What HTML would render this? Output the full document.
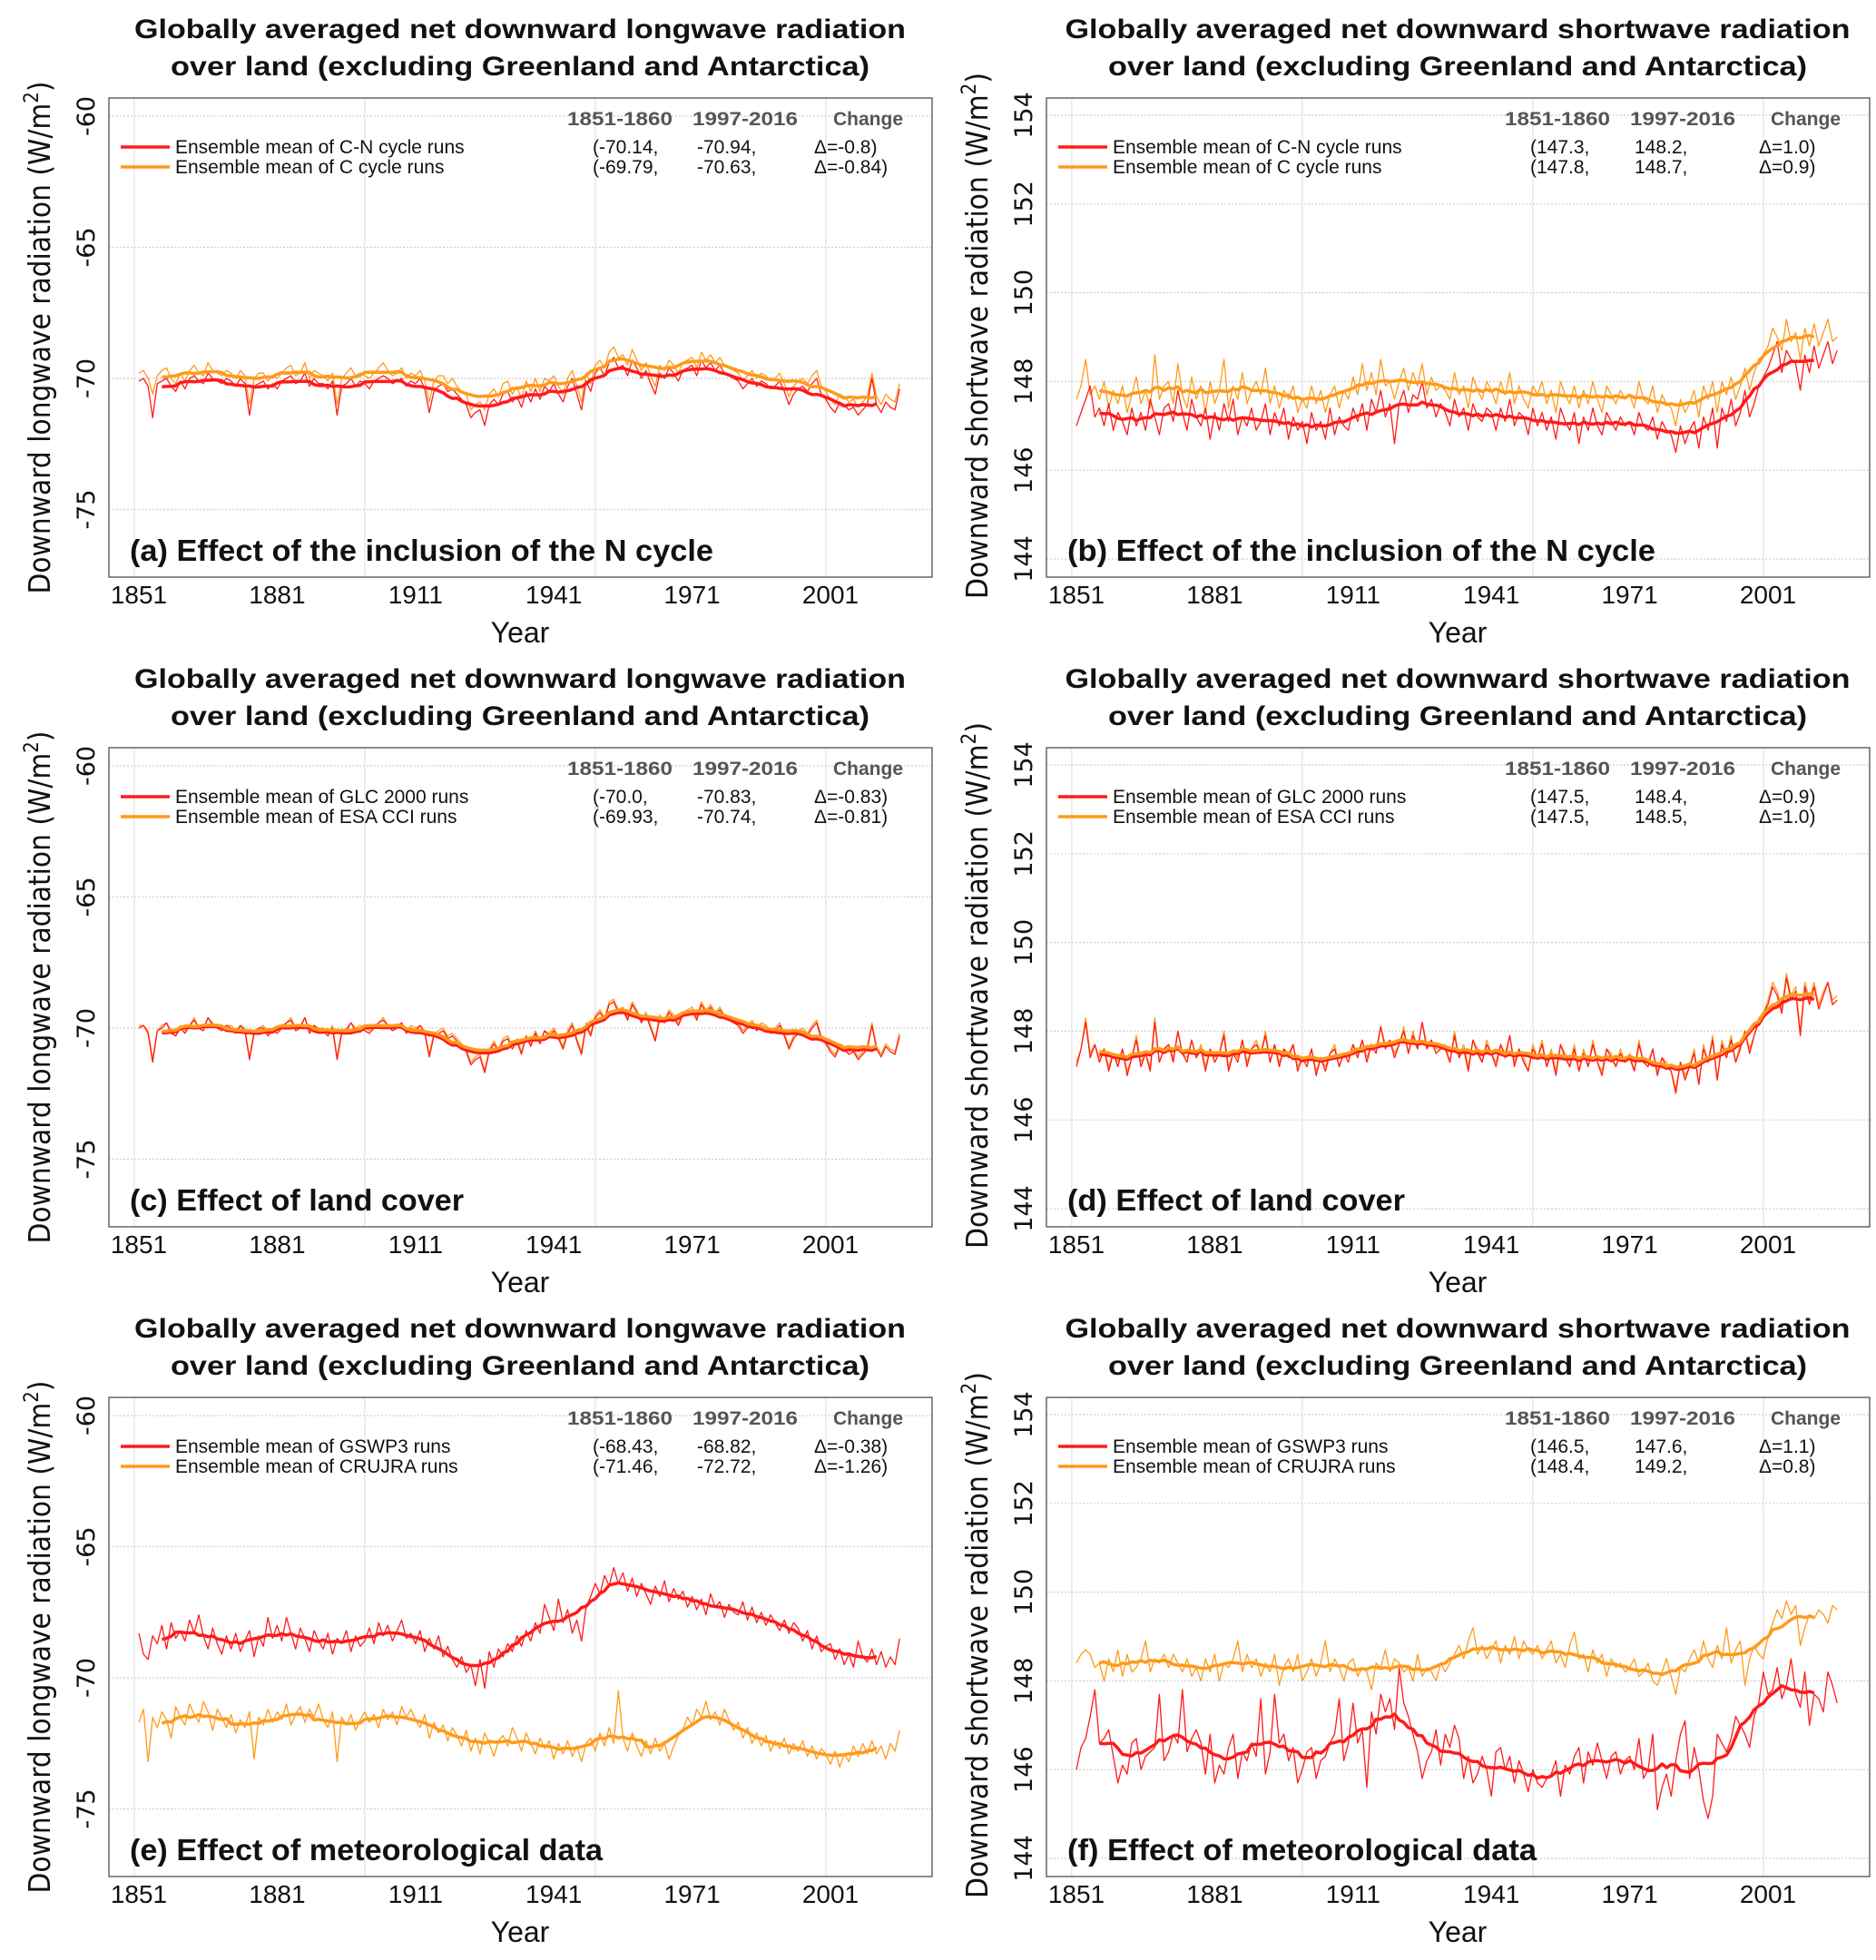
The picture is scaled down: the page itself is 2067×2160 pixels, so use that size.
<!DOCTYPE html>
<html><head><meta charset="utf-8"><style>
html,body{margin:0;padding:0;background:#fff;}
svg text{font-family:"Liberation Sans",sans-serif;}
.dv{font-family:"DejaVu Sans","Liberation Sans",sans-serif;}
</style></head><body>
<svg id="fig" xmlns="http://www.w3.org/2000/svg" width="2067" height="2155" viewBox="0 0 2067 2155"></svg>
<script>
const years = []; for (let y = 1851; y <= 2016; y++) years.push(y);
const xTicks = [1851, 1881, 1911, 1941, 1971, 2001];
const xGrid = [1850, 1900, 1950, 2000];
const lwTicks = [-60, -65, -70, -75];
const swTicks = [154, 152, 150, 148, 146, 144];

const aCN = [-70.1,-70.0,-70.3,-71.5,-70.2,-70.1,-70.0,-70.3,-70.5,-70.1,
-70.4,-70.0,-69.9,-70.1,-70.2,-69.8,-70.0,-70.1,-70.2,-70.0,
-70.1,-70.3,-70.0,-70.2,-71.4,-70.3,-70.2,-70.1,-70.4,-70.2,
-70.4,-70.1,-70.0,-69.9,-70.2,-70.1,-69.8,-70.3,-70.0,-70.2,
-70.2,-70.4,-70.1,-71.4,-70.3,-70.2,-70.0,-70.3,-70.1,-70.2,
-70.4,-70.1,-70.0,-69.9,-70.0,-70.2,-70.1,-70.0,-70.3,-70.1,
-70.2,-70.0,-70.4,-71.3,-70.5,-70.3,-70.2,-70.5,-70.4,-70.6,
-70.8,-71.0,-71.5,-71.3,-71.2,-71.8,-71.0,-70.8,-71.0,-70.6,
-70.5,-70.9,-70.7,-71.1,-70.5,-70.9,-70.4,-70.8,-70.3,-70.5,
-70.2,-70.6,-70.9,-70.3,-70.0,-70.6,-71.2,-70.1,-70.5,-69.8,
-69.6,-69.9,-69.4,-69.2,-69.6,-69.5,-69.9,-69.3,-69.6,-70.0,
-69.7,-70.2,-70.6,-69.8,-70.0,-69.6,-69.8,-70.1,-69.7,-69.6,
-69.5,-69.9,-69.3,-69.6,-69.4,-69.7,-69.5,-69.8,-69.9,-70.0,
-70.1,-70.4,-70.2,-70.0,-70.3,-70.1,-70.2,-70.4,-70.3,-70.1,
-70.5,-71.0,-70.6,-70.4,-70.3,-70.5,-70.2,-70.0,-70.6,-70.8,
-71.1,-71.3,-70.9,-71.0,-71.2,-71.1,-71.4,-71.2,-71.0,-70.0,
-71.0,-71.3,-70.9,-71.1,-71.2,-70.4];
const aC = [-69.8,-69.7,-70.0,-70.6,-69.9,-69.7,-69.6,-70.0,-70.2,-69.8,
-70.1,-69.7,-69.5,-69.8,-69.9,-69.4,-69.7,-69.8,-69.9,-69.7,
-69.8,-70.0,-69.7,-69.9,-71.0,-70.0,-69.8,-69.8,-70.1,-69.9,
-70.0,-69.8,-69.6,-69.5,-69.9,-69.8,-69.4,-70.0,-69.7,-69.8,
-69.9,-70.1,-69.8,-71.0,-70.0,-69.8,-69.6,-69.9,-69.8,-69.9,
-70.0,-69.8,-69.6,-69.4,-69.7,-69.9,-69.8,-69.6,-70.0,-69.8,
-69.9,-69.7,-70.1,-70.9,-70.1,-69.9,-69.9,-70.2,-70.0,-70.3,
-70.5,-70.6,-71.2,-71.0,-70.9,-71.2,-70.6,-70.4,-70.7,-70.2,
-70.1,-70.6,-70.3,-70.8,-70.1,-70.5,-70.0,-70.5,-70.0,-70.1,
-69.9,-70.3,-70.6,-70.0,-69.7,-70.3,-70.9,-69.8,-70.2,-69.5,
-69.3,-69.6,-69.0,-68.8,-69.2,-69.1,-69.5,-68.9,-69.3,-69.7,
-69.4,-69.9,-70.3,-69.5,-69.7,-69.3,-69.5,-69.8,-69.4,-69.3,
-69.2,-69.6,-69.0,-69.3,-69.1,-69.4,-69.2,-69.5,-69.6,-69.7,
-69.8,-70.1,-69.9,-69.7,-70.0,-69.8,-69.9,-70.1,-70.0,-69.8,
-70.2,-70.7,-70.3,-70.1,-70.0,-70.2,-69.9,-69.7,-70.3,-70.5,
-70.8,-71.0,-70.6,-70.7,-70.9,-70.8,-71.1,-70.9,-70.7,-69.8,
-70.7,-71.0,-70.6,-70.8,-70.9,-70.2];
const bCN = [147.0,147.3,147.6,147.9,147.2,147.4,147.0,147.5,146.9,147.3,
147.1,146.8,147.4,147.0,147.3,146.9,147.6,147.2,146.8,147.4,
147.5,147.1,147.8,147.3,146.9,147.6,147.2,147.0,147.4,146.7,
147.3,146.9,147.5,147.1,147.6,146.8,147.2,147.0,147.4,146.9,
147.1,147.5,146.8,147.3,147.0,147.4,146.7,147.2,146.9,147.1,
146.6,147.3,146.9,147.1,146.7,147.4,146.8,147.2,147.0,146.9,
147.4,147.1,147.5,146.9,147.6,147.3,147.8,147.2,147.5,146.6,
147.5,147.8,147.3,147.7,147.6,148.0,147.4,147.6,147.2,147.5,
147.3,147.0,147.6,147.2,147.4,146.9,147.5,147.2,147.1,147.4,
147.3,146.9,147.4,147.1,147.6,147.0,147.3,147.2,146.8,147.4,
147.0,147.3,146.9,147.2,146.7,147.4,147.1,146.9,147.3,146.6,
147.2,146.9,147.4,147.0,146.8,147.3,147.1,146.9,147.2,147.0,
147.1,146.8,147.3,147.0,146.9,147.2,146.7,147.1,146.9,146.8,
146.4,147.0,146.6,146.9,147.1,146.5,147.2,146.9,147.4,146.5,
147.4,147.1,147.6,147.0,147.3,147.8,147.2,147.5,147.9,148.1,
148.3,148.6,148.9,148.2,148.7,148.5,148.4,147.8,148.6,148.2,
148.8,148.3,148.6,148.9,148.4,148.7];
const bC = [147.6,147.9,148.5,147.7,147.9,147.6,148.0,147.4,147.8,147.5,
147.9,147.3,147.7,148.1,147.5,147.8,147.4,148.6,147.6,147.9,
148.0,147.5,148.4,147.7,147.4,148.1,147.6,147.9,147.3,148.0,
147.5,147.8,148.5,147.4,147.9,147.6,148.2,147.5,147.8,148.0,
147.7,148.3,147.5,147.9,147.4,147.8,147.6,147.9,147.3,147.6,
147.4,147.9,147.5,147.8,147.3,147.7,147.9,147.4,147.8,147.6,
148.1,147.7,148.4,147.8,148.2,147.7,148.5,147.9,148.0,147.6,
148.0,148.3,147.8,148.2,147.9,148.4,147.7,148.1,147.8,147.9,
147.8,147.6,148.2,147.7,147.9,147.4,148.1,147.8,147.6,148.0,
147.8,147.5,148.0,147.7,148.2,147.5,147.9,147.6,147.4,147.9,
147.7,148.0,147.5,147.8,147.3,148.0,147.7,147.5,147.9,147.4,
147.8,147.5,148.0,147.6,147.3,147.9,147.7,147.5,147.8,147.6,
147.7,147.4,148.0,147.6,147.5,147.9,147.3,147.7,147.5,147.4,
147.0,147.6,147.3,147.5,147.8,147.2,147.9,147.6,148.0,147.3,
148.0,147.7,148.1,147.6,147.9,148.3,147.8,148.2,148.5,148.6,
148.8,149.2,149.0,148.7,149.4,148.9,149.1,148.5,149.2,148.8,
149.3,148.8,149.1,149.4,148.9,149.0];
const cGLC = [-70.0,-69.9,-70.2,-71.3,-70.1,-70.0,-69.8,-70.2,-70.3,-70.0,
-70.2,-69.9,-69.7,-70.0,-70.1,-69.6,-69.9,-70.0,-70.1,-69.9,
-70.0,-70.2,-69.9,-70.1,-71.2,-70.2,-70.0,-70.0,-70.3,-70.1,
-70.2,-70.0,-69.8,-69.7,-70.1,-70.0,-69.6,-70.2,-69.9,-70.1,
-70.1,-70.3,-70.0,-71.2,-70.2,-70.1,-69.8,-70.1,-70.0,-70.1,
-70.2,-70.0,-69.8,-69.7,-69.9,-70.1,-70.0,-69.8,-70.2,-70.0,
-70.1,-69.9,-70.2,-71.1,-70.3,-70.2,-70.1,-70.4,-70.3,-70.5,
-70.7,-70.9,-71.4,-71.2,-71.1,-71.7,-70.9,-70.6,-70.9,-70.5,
-70.4,-70.8,-70.5,-71.0,-70.3,-70.7,-70.2,-70.6,-70.1,-70.3,
-70.1,-70.4,-70.8,-70.2,-69.9,-70.5,-71.0,-69.9,-70.3,-69.6,
-69.4,-69.7,-69.1,-69.0,-69.4,-69.3,-69.7,-69.1,-69.4,-69.8,
-69.5,-70.0,-70.5,-69.6,-69.8,-69.4,-69.6,-69.9,-69.5,-69.4,
-69.3,-69.7,-69.1,-69.4,-69.2,-69.5,-69.3,-69.6,-69.7,-69.8,
-69.9,-70.2,-70.0,-69.8,-70.1,-69.9,-70.0,-70.2,-70.1,-69.9,
-70.3,-70.8,-70.4,-70.2,-70.1,-70.3,-70.0,-69.8,-70.4,-70.6,
-70.9,-71.1,-70.7,-70.8,-71.0,-70.9,-71.2,-71.0,-70.8,-69.9,
-70.8,-71.1,-70.7,-70.9,-71.0,-70.3];
const cESA = [-69.9,-69.9,-70.1,-71.2,-70.1,-69.9,-69.8,-70.1,-70.3,-69.9,
-70.1,-69.9,-69.6,-70.0,-70.0,-69.6,-69.8,-70.0,-70.0,-69.9,
-69.9,-70.1,-69.9,-70.0,-71.1,-70.1,-70.0,-69.9,-70.2,-70.0,
-70.1,-69.9,-69.8,-69.6,-70.0,-69.9,-69.6,-70.1,-69.9,-70.0,
-70.0,-70.2,-69.9,-71.1,-70.1,-70.0,-69.8,-70.0,-69.9,-70.0,
-70.1,-69.9,-69.8,-69.6,-69.9,-70.0,-69.9,-69.8,-70.1,-69.9,
-70.0,-69.9,-70.1,-71.0,-70.2,-70.1,-70.0,-70.3,-70.2,-70.4,
-70.6,-70.8,-71.3,-71.1,-71.0,-71.6,-70.8,-70.5,-70.8,-70.4,
-70.3,-70.7,-70.4,-70.9,-70.3,-70.6,-70.1,-70.5,-70.1,-70.2,
-70.0,-70.3,-70.7,-70.1,-69.8,-70.4,-70.9,-69.8,-70.2,-69.5,
-69.3,-69.6,-69.0,-68.9,-69.3,-69.2,-69.6,-69.0,-69.3,-69.7,
-69.4,-69.9,-70.4,-69.5,-69.7,-69.3,-69.5,-69.8,-69.4,-69.3,
-69.2,-69.6,-69.0,-69.3,-69.1,-69.4,-69.2,-69.5,-69.6,-69.7,
-69.8,-70.1,-69.9,-69.7,-70.0,-69.8,-69.9,-70.1,-70.0,-69.8,
-70.2,-70.7,-70.3,-70.1,-70.0,-70.2,-69.9,-69.7,-70.3,-70.5,
-70.8,-71.0,-70.6,-70.7,-70.9,-70.8,-71.1,-70.9,-70.7,-69.8,
-70.7,-71.0,-70.6,-70.8,-70.9,-70.2];
const dGLC = [147.2,147.6,148.2,147.4,147.7,147.3,147.6,147.1,147.5,147.2,
147.6,147.0,147.4,147.8,147.2,147.5,147.1,148.2,147.3,147.6,
147.7,147.3,148.0,147.5,147.3,147.8,147.4,147.6,147.1,147.6,
147.3,147.5,147.9,147.1,147.5,147.3,147.8,147.2,147.6,147.7,
147.5,147.9,147.3,147.7,147.2,147.6,147.4,147.7,147.1,147.4,
147.2,147.6,147.0,147.4,147.1,147.5,147.6,147.2,147.5,147.3,
147.7,147.4,147.8,147.3,147.7,147.5,148.1,147.6,147.8,147.4,
147.7,148.0,147.5,147.9,147.6,148.2,147.6,147.8,147.5,147.6,
147.6,147.3,147.9,147.4,147.6,147.1,147.8,147.5,147.3,147.7,
147.5,147.2,147.7,147.4,147.9,147.2,147.6,147.3,147.1,147.6,
147.4,147.7,147.2,147.5,147.0,147.7,147.4,147.2,147.6,147.1,
147.5,147.2,147.7,147.3,147.0,147.6,147.4,147.2,147.5,147.3,
147.4,147.1,147.7,147.3,147.2,147.6,147.0,147.4,147.2,147.1,
146.6,147.3,146.9,147.2,147.5,146.8,147.6,147.3,147.8,146.9,
147.7,147.4,147.8,147.3,147.6,148.0,147.5,147.9,148.2,148.4,
148.6,149.0,148.8,148.4,149.2,148.7,148.9,147.9,149.0,148.6,
149.0,148.5,148.8,149.1,148.6,148.7];
const dESA = [147.3,147.6,148.3,147.5,147.7,147.4,147.6,147.2,147.5,147.3,
147.6,147.1,147.4,147.9,147.3,147.5,147.2,148.3,147.3,147.6,
147.7,147.4,148.0,147.5,147.4,147.8,147.4,147.7,147.2,147.6,
147.4,147.5,148.0,147.2,147.5,147.4,147.8,147.3,147.6,147.8,
147.5,148.0,147.3,147.7,147.3,147.6,147.5,147.7,147.2,147.4,
147.3,147.6,147.1,147.4,147.2,147.5,147.7,147.2,147.5,147.4,
147.7,147.5,147.8,147.4,147.7,147.6,148.1,147.7,147.8,147.5,
147.7,148.1,147.5,148.0,147.6,148.2,147.7,147.8,147.6,147.6,
147.7,147.3,148.0,147.4,147.7,147.2,147.8,147.6,147.3,147.8,
147.5,147.3,147.7,147.5,147.9,147.3,147.6,147.4,147.1,147.7,
147.4,147.8,147.2,147.6,147.1,147.7,147.5,147.2,147.7,147.1,
147.6,147.2,147.8,147.3,147.1,147.6,147.5,147.2,147.6,147.3,
147.5,147.1,147.8,147.3,147.3,147.6,147.1,147.4,147.3,147.1,
146.7,147.3,147.0,147.2,147.6,146.8,147.7,147.3,147.9,146.9,
147.8,147.4,147.9,147.3,147.7,148.0,147.6,147.9,148.3,148.4,
148.7,149.1,148.9,148.5,149.3,148.8,149.0,148.0,149.1,148.7,
149.1,148.6,148.9,149.1,148.7,148.8];
const eG = [-68.3,-69.1,-69.3,-68.4,-68.7,-68.0,-68.9,-67.9,-68.5,-68.2,
-68.6,-67.8,-68.3,-67.6,-68.4,-68.9,-68.1,-68.7,-69.1,-68.4,
-68.9,-68.3,-69.0,-68.6,-68.2,-69.2,-68.4,-68.8,-67.7,-68.5,
-68.0,-68.6,-67.7,-68.3,-68.9,-68.1,-68.5,-69.0,-68.2,-68.6,
-68.9,-68.3,-69.1,-68.5,-68.7,-68.2,-69.0,-68.4,-68.8,-68.6,
-68.1,-68.7,-67.9,-68.4,-68.0,-68.6,-68.2,-67.8,-68.5,-68.3,
-68.7,-68.2,-69.0,-68.5,-68.9,-68.4,-69.2,-68.8,-69.3,-69.6,
-69.2,-69.8,-69.5,-70.3,-69.3,-70.4,-69.0,-69.6,-68.9,-69.2,
-68.7,-69.0,-68.4,-68.8,-68.2,-68.6,-67.9,-68.3,-67.2,-67.7,
-68.2,-67.0,-67.9,-67.4,-68.3,-67.8,-68.6,-67.3,-66.9,-66.4,
-66.8,-66.1,-66.5,-65.8,-66.4,-66.0,-66.7,-66.2,-66.9,-66.4,
-66.8,-67.2,-66.5,-66.9,-66.3,-67.1,-66.6,-67.0,-66.7,-67.3,
-66.9,-67.4,-67.0,-67.6,-66.8,-67.3,-67.1,-67.7,-67.2,-67.5,
-67.6,-67.1,-67.8,-67.3,-67.9,-67.5,-68.0,-67.6,-67.9,-68.2,
-67.8,-68.3,-67.9,-68.1,-68.6,-68.2,-68.9,-68.4,-69.0,-68.8,
-68.7,-69.3,-68.9,-69.5,-69.1,-69.6,-68.6,-69.2,-69.4,-68.9,
-69.5,-69.0,-69.6,-69.2,-69.5,-68.5];
const eC = [-71.7,-71.2,-73.2,-71.5,-71.9,-71.3,-71.6,-72.3,-71.1,-71.5,
-71.8,-71.0,-71.4,-71.7,-70.9,-71.3,-72.0,-71.2,-71.5,-71.9,
-71.4,-72.1,-71.6,-71.9,-71.3,-73.1,-71.5,-71.8,-71.2,-71.7,
-71.3,-71.6,-71.0,-71.8,-71.4,-71.1,-71.7,-71.2,-71.5,-71.0,
-71.6,-71.9,-71.3,-73.2,-71.5,-71.8,-71.4,-72.0,-71.6,-71.3,
-71.7,-71.4,-71.9,-71.2,-71.6,-71.3,-71.8,-71.1,-71.5,-71.2,
-71.6,-71.9,-71.4,-72.3,-71.7,-72.1,-71.8,-72.4,-71.9,-72.2,
-72.6,-72.0,-72.8,-72.3,-72.9,-72.1,-72.5,-73.0,-72.4,-72.2,
-72.6,-71.9,-72.3,-72.8,-72.1,-72.5,-72.9,-72.3,-72.7,-72.4,
-73.1,-72.5,-72.9,-72.4,-73.0,-72.6,-73.2,-72.5,-72.3,-72.8,
-72.1,-72.6,-71.9,-72.5,-70.5,-72.3,-72.8,-72.1,-72.6,-73.0,
-72.4,-72.9,-72.3,-72.8,-72.5,-73.1,-72.6,-72.2,-72.0,-71.5,
-71.8,-71.2,-71.5,-70.9,-71.6,-71.3,-71.8,-71.2,-71.6,-72.0,
-71.7,-72.3,-71.9,-72.5,-72.1,-72.6,-72.2,-72.8,-72.4,-72.7,
-72.3,-72.9,-72.5,-72.8,-72.4,-73.0,-72.6,-73.1,-72.7,-72.9,
-73.3,-72.8,-73.4,-72.9,-73.2,-72.6,-73.0,-72.5,-72.9,-72.4,
-72.9,-72.6,-73.1,-72.5,-72.8,-72.0];
const fG = [146.0,146.5,146.7,147.2,147.8,146.6,146.7,146.9,146.3,145.7,
146.1,145.9,146.6,146.7,146.0,146.3,146.4,146.5,147.7,146.2,
146.4,146.8,146.6,147.8,146.4,146.7,146.9,146.6,145.9,146.8,
145.7,146.1,145.9,146.5,146.8,145.8,146.4,146.2,146.6,146.3,
147.6,145.9,146.4,147.7,146.6,146.8,146.2,146.5,145.7,146.0,
146.4,146.5,145.8,146.2,146.3,146.6,146.8,147.6,146.2,146.6,
147.5,146.6,146.9,145.6,147.3,146.8,147.7,147.3,147.6,146.9,
148.3,147.5,147.2,146.8,146.4,145.8,146.2,146.4,146.9,146.1,
146.8,146.5,147.0,146.7,145.8,146.3,145.7,145.9,146.3,146.0,
145.4,146.4,146.5,146.0,146.3,145.7,146.2,145.9,145.5,146.0,
145.7,145.6,145.8,145.9,146.2,145.4,146.1,145.9,146.3,146.5,
145.7,146.4,146.1,146.6,146.2,145.8,146.3,146.4,145.9,146.2,
146.3,146.0,146.7,145.8,146.0,146.8,145.1,145.6,145.9,145.4,
146.2,146.8,147.1,145.8,146.5,146.0,145.3,144.9,145.4,146.8,
146.6,146.4,146.7,147.2,147.0,146.8,146.5,147.2,147.5,148.2,
147.7,147.8,148.3,147.6,147.9,148.5,147.7,147.4,148.2,147.0,
147.7,147.6,147.3,148.2,147.9,147.5];
const fC = [148.4,148.6,148.7,148.6,148.3,148.4,148.0,148.5,148.2,148.7,
148.1,148.6,148.2,148.3,148.5,148.9,148.2,148.5,148.4,148.6,
148.3,148.6,148.4,148.2,148.5,148.1,148.3,148.0,148.5,148.2,
148.6,148.0,148.4,148.3,148.5,148.9,148.2,148.6,148.3,148.5,
148.1,148.4,148.2,148.6,147.9,148.3,148.5,148.2,148.6,148.0,
148.2,148.5,148.1,148.4,148.9,148.2,148.5,148.3,148.0,148.4,
148.5,148.1,148.3,148.2,147.8,148.4,148.3,148.7,148.2,148.5,
148.4,148.2,148.3,148.0,148.6,148.1,148.3,148.2,148.0,148.4,
148.2,148.4,148.6,148.8,148.5,148.9,149.2,148.6,148.8,148.5,
148.7,148.9,148.4,148.8,148.6,149.0,148.5,148.9,148.7,148.6,
148.8,148.5,148.7,148.9,148.4,148.6,148.3,148.8,149.1,148.5,
148.6,148.2,148.7,148.4,148.6,148.1,148.5,148.3,148.4,148.2,
148.3,148.5,148.1,148.2,148.4,148.0,147.9,148.2,148.5,148.1,
147.7,148.3,148.2,148.5,148.7,148.4,148.9,148.5,148.3,148.8,
148.5,149.2,148.4,148.7,148.9,147.9,148.5,148.8,148.6,148.5,
149.0,149.3,149.6,149.4,149.8,149.5,149.7,148.8,149.2,149.5,
149.4,149.6,149.5,149.3,149.7,149.6];

const svg = document.getElementById('fig');
const NS = 'http://www.w3.org/2000/svg';
function mk(tag, attrs, parent, txt) {
  const e = document.createElementNS(NS, tag);
  for (const k in attrs) e.setAttribute(k, attrs[k]);
  if (txt !== undefined) e.textContent = txt;
  (parent || svg).appendChild(e);
  return e;
}
function smooth(arr) {
  const out = [];
  for (let i = 5; i <= arr.length - 6; i++) {
    let s = 0; for (let j = i - 5; j <= i + 5; j++) s += arr[j];
    out.push([i, s / 11]);
  }
  return out;
}
const RED = '#ff1a1a', ORANGE = '#ff9a1a';
const PL = 120, PT = 108, PR = 1027, PB = 636;

function panel(ox, oy, cfg) {
  const g = mk('g', {transform: `translate(${ox},${oy})`});
  
  
  const xs = y => 153 + (y - 1851) * 5.08;
  const ys = v => cfg.y0px - (v - cfg.y0) * cfg.pxPerUnit;
  const t1 = mk('text', {x: 573, y: 42, 'text-anchor': 'middle', 'font-size': 30, 'font-weight': 'bold', fill: '#111', textLength: cfg.t1w, lengthAdjust: 'spacingAndGlyphs'}, g, cfg.title1);
  
  
  const t2 = mk('text', {x: 573, y: 83, 'text-anchor': 'middle', 'font-size': 30, 'font-weight': 'bold', fill: '#111', textLength: 770, lengthAdjust: 'spacingAndGlyphs'}, g, 'over land (excluding Greenland and Antarctica)');
  
  
  cfg.ticks.forEach(v => {
    const l = mk('line', {x1: PL, x2: PR, y1: ys(v), y2: ys(v), stroke: '#cfcfcf', 'stroke-width': 1.2, 'stroke-dasharray': '2,2'}, g);
    
    
  });
  xGrid.forEach(v => {
    const l = mk('line', {x1: xs(v), x2: xs(v), y1: PT, y2: PB, stroke: '#e2e2e2', 'stroke-width': 1.2}, g);
    
    
  });
  function line(arr, color, w, nm) {
    const p = mk('path', {d: arr.map((v, i) => (i ? 'L' : 'M') + xs(years[i]).toFixed(1) + ',' + ys(v).toFixed(1)).join(''), fill: 'none', stroke: color, 'stroke-width': w, 'stroke-linejoin': 'round'}, g);
    
    
  }
  function sline(arr, color, w, nm) {
    const sm = smooth(arr);
    const p = mk('path', {d: sm.map((q, i) => (i ? 'L' : 'M') + xs(years[q[0]]).toFixed(1) + ',' + ys(q[1]).toFixed(1)).join(''), fill: 'none', stroke: color, 'stroke-width': w, 'stroke-linejoin': 'round'}, g);
    
    
  }
  line(cfg.s2, ORANGE, 1.3, 'series2-annual-line');
  line(cfg.s1, RED, 1.3, 'series1-annual-line');
  sline(cfg.s1, RED, 3.5, 'series1-smoothed-line');
  sline(cfg.s2, ORANGE, 3.5, 'series2-smoothed-line');
  const fr = mk('rect', {x: PL, y: PT, width: PR - PL, height: PB - PT, fill: 'none', stroke: '#666', 'stroke-width': 1.5}, g);
  
  
  xTicks.forEach(v => {
    const t = mk('text', {x: xs(v), y: 665, 'text-anchor': 'middle', 'font-size': 28, fill: '#111'}, g, String(v));
    
    
  });
  cfg.ticks.forEach(v => {
    const t = mk('text', {x: 0, y: 0, 'text-anchor': 'middle', 'font-size': 27, class: 'dv', fill: '#111', transform: `translate(104,${ys(v)}) rotate(-90)`}, g, String(v));
    
    
  });
  const xl = mk('text', {x: 573, y: 708, 'text-anchor': 'middle', 'font-size': 32, fill: '#111'}, g, 'Year');
  
  
  const yl = mk('text', {x: 0, y: 0, 'text-anchor': 'middle', 'font-size': 33, class: 'dv', fill: '#111', transform: `translate(55,${cfg.ylc}) rotate(-90)`, textLength: cfg.ylw, lengthAdjust: 'spacingAndGlyphs'}, g);
  
  
  mk('tspan', {}, yl, cfg.ylabel + '  (W/m');
  mk('tspan', {dy: -13, 'font-size': 22}, yl, '2');
  mk('tspan', {dy: 13}, yl, ')');
  const lg = mk('g', {}, g);
  
  
  const hdr = [['1851-1860', 625, 116], ['1997-2016', 763, 116], ['Change', 918, 77]];
  hdr.forEach(h => {
    const t = mk('text', {x: h[1], y: 138, 'font-size': 21, 'font-weight': 'bold', fill: '#555', textLength: h[2], lengthAdjust: 'spacingAndGlyphs'}, lg, h[0]);
    
    
  });
  [[cfg.leg1, cfg.v1, RED, 169], [cfg.leg2, cfg.v2, ORANGE, 191]].forEach(r => {
    const e = mk('g', {}, lg);
    
    
    mk('line', {x1: 133, x2: 187, y1: r[3] - 7, y2: r[3] - 7, stroke: r[2], 'stroke-width': 3.5}, e);
    mk('text', {x: 193, y: r[3], 'font-size': 21, fill: '#111'}, e, r[0]);
    mk('text', {x: 653, y: r[3], 'font-size': 21, fill: '#111'}, e, r[1][0]);
    mk('text', {x: 768, y: r[3], 'font-size': 21, fill: '#111'}, e, r[1][1]);
    mk('text', {x: cfg.dx, y: r[3], 'font-size': 21, fill: '#111'}, e, r[1][2]);
  });
  const pl = mk('text', {x: 143, y: 618, 'font-size': 33, 'font-weight': 'bold', fill: '#111', textLength: cfg.plw, lengthAdjust: 'spacingAndGlyphs'}, g, cfg.plabel);
  
  
}

const LW = {y0: -70, y0px: 417, pxPerUnit: 28.9, ticks: lwTicks, title1: 'Globally averaged net downward longwave radiation', t1w: 850, ylabel: 'Downward longwave radiation', ylc: 372, ylw: 565, dx: 897};
const SW = {y0: 144, y0px: 616, pxPerUnit: 48.9, ticks: swTicks, title1: 'Globally averaged net downward shortwave radiation', t1w: 865, ylabel: 'Downward shortwave radiation', ylc: 370, ylw: 580, dx: 905};

panel(0, 0, Object.assign({}, LW, {name: 'panel-a', s1: aCN, s2: aC, leg1: 'Ensemble mean of C-N cycle runs', leg2: 'Ensemble mean of C cycle runs', v1: ['(-70.14,', '-70.94,', 'Δ=-0.8)'], v2: ['(-69.79,', '-70.63,', 'Δ=-0.84)'], plabel: '(a) Effect of the inclusion of the N cycle', plw: 643}));
panel(1033, 0, Object.assign({}, SW, {name: 'panel-b', s1: bCN, s2: bC, leg1: 'Ensemble mean of C-N cycle runs', leg2: 'Ensemble mean of C cycle runs', v1: ['(147.3,', '148.2,', 'Δ=1.0)'], v2: ['(147.8,', '148.7,', 'Δ=0.9)'], plabel: '(b) Effect of the inclusion of the N cycle', plw: 648}));
panel(0, 716, Object.assign({}, LW, {name: 'panel-c', s1: cGLC, s2: cESA, leg1: 'Ensemble mean of GLC 2000 runs', leg2: 'Ensemble mean of ESA CCI runs', v1: ['(-70.0,', '-70.83,', 'Δ=-0.83)'], v2: ['(-69.93,', '-70.74,', 'Δ=-0.81)'], plabel: '(c) Effect of land cover', plw: 368}));
panel(1033, 716, Object.assign({}, SW, {name: 'panel-d', s1: dGLC, s2: dESA, leg1: 'Ensemble mean of GLC 2000 runs', leg2: 'Ensemble mean of ESA CCI runs', v1: ['(147.5,', '148.4,', 'Δ=0.9)'], v2: ['(147.5,', '148.5,', 'Δ=1.0)'], plabel: '(d) Effect of land cover', plw: 372}));
panel(0, 1432, Object.assign({}, LW, {name: 'panel-e', s1: eG, s2: eC, leg1: 'Ensemble mean of GSWP3 runs', leg2: 'Ensemble mean of CRUJRA runs', v1: ['(-68.43,', '-68.82,', 'Δ=-0.38)'], v2: ['(-71.46,', '-72.72,', 'Δ=-1.26)'], plabel: '(e) Effect of meteorological data', plw: 521}));
panel(1033, 1432, Object.assign({}, SW, {name: 'panel-f', s1: fG, s2: fC, leg1: 'Ensemble mean of GSWP3 runs', leg2: 'Ensemble mean of CRUJRA runs', v1: ['(146.5,', '147.6,', 'Δ=1.1)'], v2: ['(148.4,', '149.2,', 'Δ=0.8)'], plabel: '(f) Effect of meteorological data', plw: 517}));
</script>
</body></html>
